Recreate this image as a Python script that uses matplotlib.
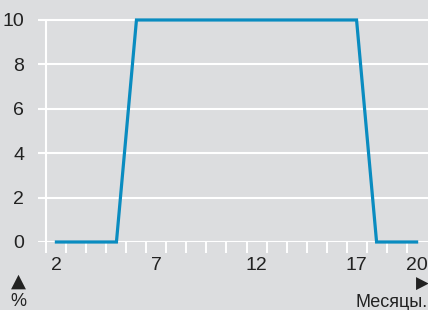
import matplotlib
matplotlib.use("Agg")
import matplotlib.pyplot as plt
import numpy as np

months = [2, 3, 4, 5, 6, 7, 8, 9, 10, 11, 12, 13, 14, 15, 16, 17, 18, 19, 20]
values = [0, 0, 0, 0, 10, 10, 10, 10, 10, 10, 10, 10, 10, 10, 10, 10, 0, 0, 0]
yticks = [0, 2, 4, 6, 8, 10]
xtick_labels = [2, 7, 12, 17, 20]

BG = "#dcdddf"
LINE = "#0a8cc0"
TXT = "#222222"
FONT = ["Liberation Sans Narrow", "Liberation Sans", "DejaVu Sans"]
plt.rcParams['font.family'] = FONT

W, H = 428, 310
fig = plt.figure(figsize=(W / 100, H / 100), dpi=100, facecolor=BG)
ax = fig.add_axes([38 / W, (H - 242) / H, 1 - 38 / W, 242 / H])
ax.set_facecolor(BG)
ax.set_xlim(1.08, 20.57)
ax.set_ylim(0, 10.9)

for s in ax.spines.values():
    s.set_visible(False)

for y in yticks:
    ax.axhline(y, color="white", lw=1.5, zorder=1)
ax.vlines(1.5, 0, 10, color="white", lw=1.5, zorder=1)

ax.set_yticks(yticks)
ax.set_yticklabels([str(v) for v in yticks])
ax.tick_params(axis="y", length=0, pad=10, labelsize=14, labelcolor=TXT)

ax.set_xticks(xtick_labels)
ax.set_xticklabels([str(v) for v in xtick_labels])
ax.set_xticks(np.arange(1.5, 20, 1.0), minor=True)
ax.tick_params(axis="x", which="major", length=0, pad=11, labelsize=14, labelcolor=TXT)
ax.tick_params(axis="x", which="minor", length=8, width=1.4, color="white", direction="out")

ax.plot(months, values, color=LINE, lw=2.3, zorder=3, clip_on=False, solid_joinstyle="miter")

fig.text(18 / W, 1 - 281 / H, "▲", ha="center", va="center", fontsize=14, color=TXT, family=["DejaVu Sans"])
fig.text(18 / W, 1 - 301 / H, "%", ha="center", va="center", fontsize=13, color=TXT)
fig.text(422 / W, 1 - 284 / H, "▶", ha="center", va="center", fontsize=12, color=TXT, family=["DejaVu Sans"])
fig.text(1.0, 1 - 294 / H, "Месяцы.", ha="right", va="top", fontsize=13, color=TXT)

fig.savefig("out.png", dpi=100, facecolor=BG)
